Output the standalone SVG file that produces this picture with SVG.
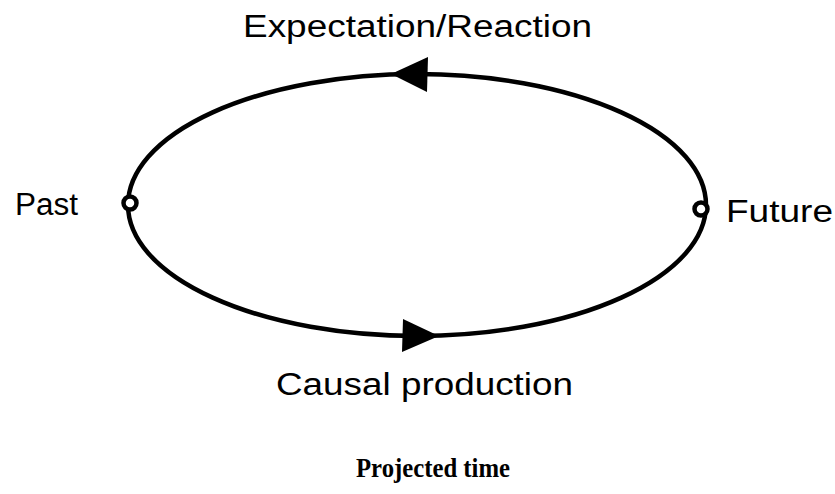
<svg xmlns="http://www.w3.org/2000/svg" width="835" height="494" viewBox="0 0 835 494">
<style>
.lbl{font-family:"Liberation Sans",Arial,sans-serif;font-size:31px;fill:#000}
.ttl{font-family:"Liberation Serif","Times New Roman",serif;font-size:28px;font-weight:bold;fill:#000}
.ln{fill:none;stroke:#000;stroke-width:4.5}
.pt{fill:#fff;stroke:#000;stroke-width:4.5}
</style>
<rect width="835" height="494" fill="#fff"/>
<g id="connectors">
<ellipse class="ln" cx="417" cy="205" rx="289" ry="131"/>
<polygon points="391,74 428,57 427,92" fill="#000"/>
<polygon points="439,336 403,319 402,352" fill="#000"/>
</g>
<g id="past">
<circle class="pt" cx="130" cy="203" r="6.5"/>
<text class="lbl" x="15" y="215" textLength="63" lengthAdjust="spacingAndGlyphs">Past</text>
</g>
<g id="future">
<circle class="pt" cx="701" cy="209" r="6.5"/>
<text class="lbl" x="726" y="222" textLength="107" lengthAdjust="spacingAndGlyphs">Future</text>
</g>
<g id="expectation">
<text class="lbl" x="243" y="37" textLength="349" lengthAdjust="spacingAndGlyphs">Expectation/Reaction</text>
</g>
<g id="causal">
<text class="lbl" x="276" y="395" textLength="297" lengthAdjust="spacingAndGlyphs">Causal production</text>
</g>
<g id="title">
<text class="ttl" x="356" y="477" textLength="154" lengthAdjust="spacingAndGlyphs">Projected time</text>
</g>
</svg>
